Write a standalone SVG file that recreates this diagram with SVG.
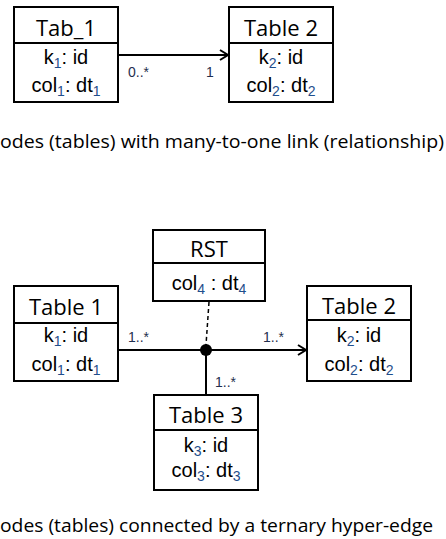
<svg xmlns="http://www.w3.org/2000/svg" width="446" height="539" viewBox="0 0 446 539">
  <style>
    .box { fill: #ffffff; stroke: #000000; stroke-width: 2; }
    .div { stroke: #000000; stroke-width: 2; }
    .title { font-family: "Open Sans", "Noto Sans", sans-serif; font-size: 22px; fill: #000000; text-anchor: middle; }
    .row { font-family: "Liberation Sans", Arial, sans-serif; font-size: 20px; fill: #000000; text-anchor: middle; }
    .sub { font-size: 14px; fill: #1f4e8c; }
    .mult { font-family: "Liberation Sans", Arial, sans-serif; font-size: 14px; fill: #1f2f4f; }
    .caption { font-family: "Open Sans", "Noto Sans", sans-serif; font-size: 18px; fill: #000000; }
    .edge { stroke: #000000; stroke-width: 2; fill: none; }
    .dash { stroke: #000000; stroke-width: 1.5; fill: none; stroke-dasharray: 4 3; }
  </style>
  <defs>
    <marker id="open-arrow" markerWidth="12" markerHeight="12" refX="10" refY="6" orient="auto" markerUnits="userSpaceOnUse">
      <path d="M2,1 L10,6 L2,11" fill="none" stroke="#000000" stroke-width="2"/>
    </marker>
  </defs>

  <!-- Connectors -->
  <g id="connectors">
    <line class="edge" x1="118" y1="55" x2="228" y2="55" marker-end="url(#open-arrow)"/>
    <line class="edge" x1="118" y1="350" x2="306" y2="350" marker-end="url(#open-arrow)"/>
    <line class="edge" x1="206" y1="350" x2="206" y2="395"/>
    <line class="dash" x1="209" y1="302" x2="206" y2="345"/>
    <circle cx="206" cy="350" r="6" fill="#000000"/>
    <text class="mult" x="128" y="77">0..*</text>
    <text class="mult" x="206" y="77">1</text>
    <text class="mult" x="128" y="342">1..*</text>
    <text class="mult" x="263" y="342">1..*</text>
    <text class="mult" x="215" y="387">1..*</text>
  </g>

  <!-- Top: many-to-one link -->
  <g id="tab1">
    <rect class="box" x="14" y="7" width="104" height="95"/>
    <line class="div" x1="14" y1="43" x2="118" y2="43"/>
    <text class="title" x="66" y="36">Tab_1</text>
    <text class="row" x="66" y="64">k<tspan class="sub" dy="4">1</tspan><tspan dy="-4">: id</tspan></text>
    <text class="row" x="66" y="92">col<tspan class="sub" dy="4">1</tspan><tspan dy="-4">: dt</tspan><tspan class="sub" dy="4">1</tspan></text>
  </g>

  <g id="table2-top">
    <rect class="box" x="229" y="7" width="104" height="95"/>
    <line class="div" x1="229" y1="43" x2="333" y2="43"/>
    <text class="title" x="281" y="36">Table 2</text>
    <text class="row" x="281" y="64">k<tspan class="sub" dy="4">2</tspan><tspan dy="-4">: id</tspan></text>
    <text class="row" x="281" y="92">col<tspan class="sub" dy="4">2</tspan><tspan dy="-4">: dt</tspan><tspan class="sub" dy="4">2</tspan></text>
  </g>

  <text class="caption" x="0" y="148" textLength="444" lengthAdjust="spacingAndGlyphs">odes (tables) with many-to-one link (relationship)</text>

  <!-- Bottom: ternary hyper-edge -->
  <g id="rst">
    <rect class="box" x="153" y="230" width="112" height="71"/>
    <line class="div" x1="153" y1="263" x2="265" y2="263"/>
    <text class="title" x="209" y="257">RST</text>
    <text class="row" x="209" y="290">col<tspan class="sub" dy="4">4</tspan><tspan dy="-4"> : dt</tspan><tspan class="sub" dy="4">4</tspan></text>
  </g>

  <g id="table1">
    <rect class="box" x="14" y="286" width="104" height="95"/>
    <line class="div" x1="14" y1="323" x2="118" y2="323"/>
    <text class="title" x="66" y="315">Table 1</text>
    <text class="row" x="66" y="342">k<tspan class="sub" dy="4">1</tspan><tspan dy="-4">: id</tspan></text>
    <text class="row" x="66" y="371">col<tspan class="sub" dy="4">1</tspan><tspan dy="-4">: dt</tspan><tspan class="sub" dy="4">1</tspan></text>
  </g>

  <g id="table2">
    <rect class="box" x="307" y="286" width="104" height="95"/>
    <line class="div" x1="307" y1="320" x2="411" y2="320"/>
    <text class="title" x="359" y="314">Table 2</text>
    <text class="row" x="359" y="342">k<tspan class="sub" dy="4">2</tspan><tspan dy="-4">: id</tspan></text>
    <text class="row" x="359" y="371">col<tspan class="sub" dy="4">2</tspan><tspan dy="-4">: dt</tspan><tspan class="sub" dy="4">2</tspan></text>
  </g>

  <g id="table3">
    <rect class="box" x="154" y="395" width="104" height="95"/>
    <line class="div" x1="154" y1="430" x2="258" y2="430"/>
    <text class="title" x="206" y="423">Table 3</text>
    <text class="row" x="206" y="452">k<tspan class="sub" dy="4">3</tspan><tspan dy="-4">: id</tspan></text>
    <text class="row" x="206" y="477">col<tspan class="sub" dy="4">3</tspan><tspan dy="-4">: dt</tspan><tspan class="sub" dy="4">3</tspan></text>
  </g>

  <text class="caption" x="0" y="532" textLength="433" lengthAdjust="spacingAndGlyphs">odes (tables) connected by a ternary hyper-edge</text>
</svg>
